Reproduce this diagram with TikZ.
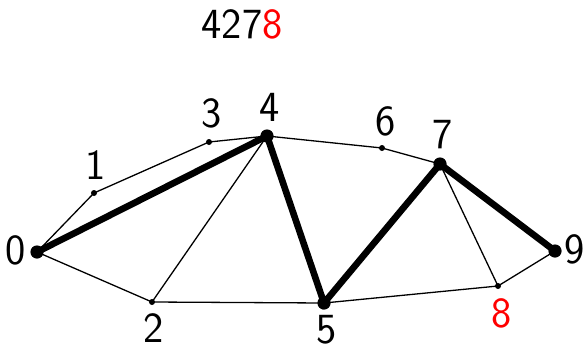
\documentclass[tikz,border=0pt]{standalone}
\begin{document}
\begin{tikzpicture}[x=0.5pt,y=-0.5pt,
  font=\sffamily\fontsize{21.5}{24}\selectfont,
  thin edge/.style={line width=0.65pt},
  thick edge/.style={line width=3.3pt},
  bigdot/.style={circle,fill,inner sep=0pt,minimum size=6.6pt},
  smalldot/.style={circle,fill,inner sep=0pt,minimum size=3pt},
  lbl/.style={inner sep=0pt}]
\useasboundingbox (0,0) rectangle (584,343);
\node[bigdot]   (n0) at (37,252) {};
\node[smalldot] (n1) at (94,193) {};
\node[smalldot] (n2) at (152,302) {};
\node[smalldot] (n3) at (209,142) {};
\node[bigdot]   (n4) at (267,136) {};
\node[bigdot]   (n5) at (324,303) {};
\node[smalldot] (n6) at (382,148) {};
\node[bigdot]   (n7) at (440,164) {};
\node[smalldot] (n8) at (498,286) {};
\node[bigdot]   (n9) at (555,251) {};
\node[lbl] (l0) at (16,250) {0};
\node[lbl] (l1) at (96,165) {1};
\node[lbl] (l2) at (154,328) {2};
\node[lbl] (l3) at (212,113) {3};
\node[lbl] (l4) at (270,107) {4};
\node[lbl] (l5) at (327,330) {5};
\node[lbl] (l6) at (386,121) {6};
\node[lbl] (l7) at (443,135) {7};
\node[lbl,red] (l8) at (502,313) {8};
\node[lbl] (l9) at (575,249) {9};
\node[lbl] (title) at (242,24) {427\textcolor{red}{8}};
\draw[thin edge] (n0.center) -- (n1.center) -- (n3.center) -- (n4.center);
\draw[thin edge] (n0.center) -- (n2.center) -- (n4.center);
\draw[thin edge] (n2.center) -- (n5.center);
\draw[thin edge] (n4.center) -- (n6.center) -- (n7.center);
\draw[thin edge] (n7.center) -- (n8.center) -- (n9.center);
\draw[thin edge] (n5.center) -- (n8.center);
\draw[thick edge] (n0.center) -- (n4.center) -- (n5.center) -- (n7.center) -- (n9.center);
\end{tikzpicture}
\end{document}
